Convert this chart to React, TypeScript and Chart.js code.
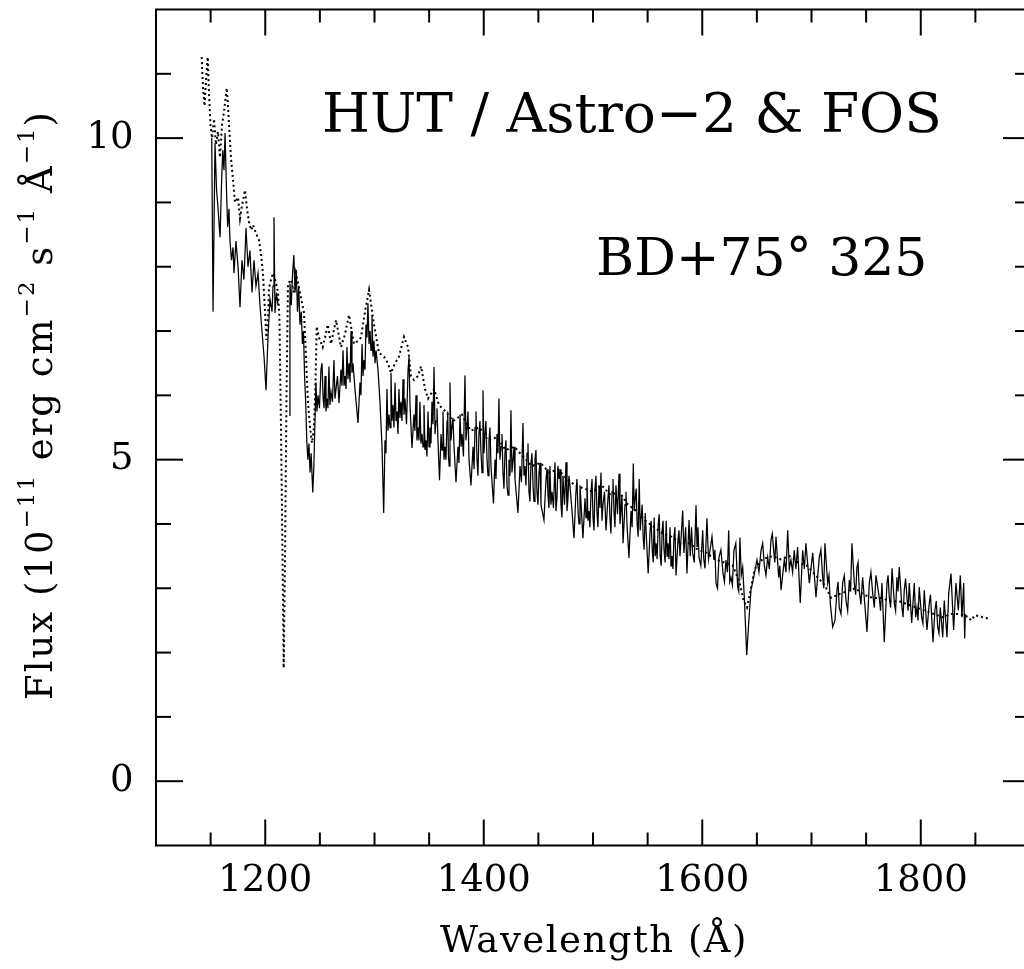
import { useEffect, useRef } from "react";
import { Chart, registerables } from "chart.js";

Chart.register(...registerables);

// HUT / Astro-2 spectrum (solid). null = gap at geocoronal Ly-alpha
const solidWave = [
  1151.0, 1152.2, 1154.0, 1155.4, 1156.7, 1158.6, 1160.0, 1161.1, 1162.2, 1163.2,
  1164.5, 1165.6, 1166.8, 1167.7, 1169.1, 1170.5, 1171.4, 1173.2, 1175.1, 1176.9,
  1178.7, 1180.5, 1182.4, 1184.2, 1186.0, 1187.9, 1189.7, 1191.5, 1193.4, 1195.2,
  1197.0, 1198.9, 1200.7, 1202.5, 1204.3, 1206.2, 1207.1, 1208.0, 1208.9, 1210.3,
  1211.7, 1216.0,
  1222.0, 1222.6, 1223.8, 1225.0, 1226.2, 1227.3, 1228.4, 1229.5, 1230.6, 1231.8,
  1233.0, 1234.0, 1235.0, 1236.0, 1237.0, 1238.0, 1239.0, 1240.0, 1241.0, 1242.0,
  1243.5, 1244.5, 1245.5, 1246.4, 1248.3, 1251.0, 1252.9, 1254.7, 1256.5, 1258.3,
  1260.2, 1262.9, 1264.8, 1266.1, 1267.5, 1269.3, 1271.2, 1273.0, 1274.8, 1276.7,
  1278.5, 1280.3, 1282.1, 1284.9, 1286.7, 1288.6, 1290.4, 1292.2, 1294.0, 1295.9,
  1297.7, 1299.5, 1301.4, 1303.2, 1305.0, 1306.9, 1308.4, 1309.6, 1311.4, 1313.3,
  1315.1, 1316.9, 1318.8, 1320.6, 1322.4, 1324.2, 1326.1, 1327.9, 1330.7, 1332.5,
  1334.3, 1336.1, 1338.0, 1339.8, 1341.6, 1343.5, 1345.3, 1347.1, 1349.0, 1350.8,
  1352.6, 1354.5, 1356.3, 1358.1, 1359.5, 1360.9, 1362.7, 1364.5, 1366.4, 1367.7,
  1369.1, 1370.9, 1372.8, 1374.6, 1376.4, 1378.3, 1380.1, 1382.8, 1384.7, 1386.5,
  1388.3, 1390.2, 1392.0, 1393.8, 1395.6, 1397.5, 1399.3, 1401.1, 1403.0, 1404.8,
  1406.6, 1408.9, 1410.3, 1412.1, 1413.9, 1415.8, 1417.6, 1419.4, 1421.3, 1423.1,
  1424.9, 1426.8, 1428.6, 1431.3, 1433.2, 1435.9, 1437.7, 1439.6, 1441.4, 1443.2,
  1445.1, 1446.9, 1448.7, 1450.6, 1452.4, 1455.1, 1457.0, 1458.8, 1460.6, 1462.5,
  1465.2, 1467.0, 1468.9, 1470.7, 1472.5, 1475.3, 1477.1, 1478.9, 1480.8, 1482.6,
  1484.4, 1486.3, 1488.1, 1490.8, 1492.7, 1494.5, 1496.3, 1498.2, 1500.0, 1501.8,
  1503.6, 1505.5, 1507.3, 1509.1, 1511.9, 1513.7, 1515.5, 1517.4, 1519.2, 1521.0,
  1523.8, 1525.6, 1527.5, 1529.3, 1531.1, 1532.9, 1534.8, 1536.9, 1538.6, 1540.4,
  1542.3, 1544.1, 1545.9, 1547.8, 1550.5, 1552.3, 1554.2, 1556.0, 1557.8, 1559.7,
  1561.5, 1563.3, 1565.0, 1567.0, 1568.6, 1570.5, 1572.3, 1574.1, 1576.0, 1577.8,
  1579.6, 1580.5, 1582.1, 1586.0, 1587.9, 1591.2, 1594.3, 1597.0, 1600.4, 1602.5,
  1604.3, 1607.1, 1610.7, 1612.6, 1615.3, 1619.0, 1621.7, 1624.2, 1626.3, 1629.0,
  1632.4, 1634.5, 1637.0, 1638.5, 1640.7, 1642.5, 1644.6, 1647.1, 1650.1, 1653.8,
  1656.8, 1659.9, 1662.9, 1665.4, 1667.5, 1670.0, 1672.1, 1675.1, 1678.2, 1681.2,
  1684.2, 1687.3, 1689.7, 1691.9, 1694.9, 1698.0, 1701.1, 1704.1, 1707.1, 1710.2,
  1712.3, 1714.8, 1717.2, 1719.4, 1721.5, 1723.3, 1725.4, 1728.5, 1731.6, 1734.6,
  1737.0, 1739.2, 1741.6, 1743.7, 1746.8, 1750.8, 1752.9, 1756.0, 1759.0, 1762.0,
  1764.5, 1766.6, 1769.1, 1771.2, 1773.7, 1775.8, 1778.2, 1780.3, 1782.8, 1784.9,
  1787.4, 1789.5, 1791.7, 1794.1, 1796.5, 1798.6, 1800.8, 1803.2, 1805.7, 1807.8,
  1810.0, 1811.2, 1813.0, 1815.5, 1817.9, 1820.1, 1821.5, 1824.0, 1825.6, 1827.7,
  1830.1, 1832.2, 1834.4, 1836.2, 1837.7, 1839.3, 1840.2, 1840.8,
];

const solidFlux = [
  10.0, 7.3, 9.92, 9.2, 8.93, 8.46, 9.3, 9.81, 9.5, 10.08,
  9.2, 8.62, 8.9, 8.41, 8.1, 8.3, 7.9, 8.4, 8.0, 7.37,
  8.1, 7.8, 8.6, 8.0, 8.25, 7.6, 8.1, 7.7, 7.9, 7.4,
  7.0, 6.6, 6.08, 6.9, 7.5, 7.3, 7.7, 8.77, 7.28, 7.6,
  7.4, null,
  5.69, 7.74, 7.4, 7.9, 8.18, 7.6, 7.95, 7.3, 7.7, 7.1,
  7.3, 6.8, 7.0, 6.3, 5.9, 5.3, 5.0, 5.25, 4.8, 5.1,
  4.49, 4.9, 5.6, 6.2, 6.0, 6.4, 5.97, 6.3, 5.95, 6.45,
  6.05, 6.55, 6.1, 6.3, 5.88, 6.4, 6.7, 6.3, 6.75, 6.5,
  7.0, 6.5, 6.1, 5.57, 6.2, 6.8, 6.55, 7.1, 7.43, 7.0,
  7.25, 6.85, 6.7, 6.4, 5.9, 5.2, 4.17, 5.3, 6.1, 5.7,
  6.35, 5.85, 6.2, 5.75, 6.1, 5.9, 6.25, 5.95, 6.39, 5.85,
  5.18, 5.7, 6.0, 5.5, 5.9, 5.4, 5.85, 5.3, 5.75, 5.5,
  5.9, 6.44, 5.6, 5.3, 4.68, 5.4, 5.75, 5.2, 5.6, 5.05,
  6.2, 5.5, 5.2, 4.65, 5.2, 5.7, 5.4, 6.31, 5.5, 5.0,
  4.6, 5.2, 5.5, 5.0, 5.4, 5.1, 6.08, 5.4, 5.0, 5.3,
  4.9, 4.32, 5.0, 5.4, 5.95, 5.2, 4.8, 5.1, 4.6, 5.0,
  5.77, 5.0, 4.7, 4.17, 4.9, 5.57, 4.9, 5.1, 4.5, 4.95,
  4.6, 5.0, 4.5, 4.8, 4.3, 4.06, 4.7, 4.45, 4.9, 4.5,
  4.96, 4.4, 4.7, 4.3, 4.75, 4.96, 4.4, 4.6, 4.2, 3.78,
  4.5, 4.2, 4.6, 3.78, 4.4, 4.7, 4.2, 4.5, 4.1, 4.55,
  4.2, 4.6, 4.8, 4.3, 3.9, 4.4, 4.1, 4.5, 4.2, 4.6,
  4.78, 4.2, 3.7, 4.3, 4.0, 3.47, 4.2, 4.94, 4.4, 4.0,
  4.7, 4.1, 3.8, 4.17, 3.23, 3.9, 3.6, 4.1, 3.7, 4.0,
  3.5, 3.9, 3.6, 4.05, 3.7, 3.95, 3.5, 3.8, 3.2, 3.75,
  3.5, 3.75, 4.21, 3.23, 4.06, 3.55, 4.29, 3.48, 3.9, 3.31,
  4.09, 3.59, 3.44, 3.08, 3.48, 3.23, 3.44, 3.9, 3.17, 3.59,
  3.02, 3.79, 3.33, 2.86, 1.96, 2.46, 2.97, 3.17, 3.44, 3.59,
  3.36, 3.48, 3.75, 3.59, 3.8, 3.17, 2.97, 3.44, 3.9, 3.44,
  3.59, 3.64, 2.77, 3.59, 3.7, 3.08, 3.55, 2.86, 3.48, 3.17,
  3.7, 3.08, 2.77, 2.4, 2.5, 2.97, 2.7, 3.08, 2.81, 3.13,
  3.7, 3.08, 3.33, 2.97, 3.17, 2.32, 3.08, 2.92, 3.2, 2.86,
  3.08, 2.16, 3.08, 2.86, 3.31, 2.77, 3.17, 3.33, 2.7, 2.97,
  2.86, 3.08, 2.46, 3.08, 2.7, 3.02, 2.55, 2.97, 2.35, 2.77,
  2.55, 2.16, 2.66, 2.4, 2.7, 2.24, 2.81, 2.24, 2.92, 3.23,
  2.35, 3.08, 2.66, 3.2, 2.55, 3.08, 2.22, 2.6,
];

// additional fine-scale samples of the HUT noise band (merged by wavelength)
const solidFineWave = [
  1247.3, 1249.6, 1252.0, 1253.8, 1255.6, 1257.4, 1259.2, 1261.5, 1263.8, 1270.2,
  1272.1, 1273.9, 1275.7, 1277.6, 1279.4, 1287.6, 1289.5, 1291.3, 1293.1, 1295.0,
  1296.8, 1298.6, 1300.5, 1310.5, 1312.3, 1314.2, 1316.0, 1317.8, 1319.7, 1321.5,
  1323.3, 1325.1, 1327.0, 1329.3, 1331.6, 1337.0, 1338.9, 1340.7, 1342.5, 1344.4,
  1346.2, 1348.0, 1349.9, 1351.7, 1353.5, 1355.4, 1357.2, 1361.8, 1363.6, 1365.4,
  1367.0, 1368.4, 1370.0, 1371.8, 1377.3, 1379.2, 1381.4, 1383.7, 1385.6, 1391.1,
  1392.9, 1394.7, 1396.5, 1398.4, 1400.2, 1402.0, 1403.9, 1405.7, 1411.2, 1413.0,
  1414.8, 1416.7, 1418.5, 1420.3, 1422.2, 1424.0, 1425.8, 1427.7, 1434.5, 1436.8,
  1438.6, 1440.5, 1442.3, 1444.1, 1446.0, 1447.8, 1449.6, 1451.5, 1457.9, 1459.7,
  1461.5, 1463.8, 1466.1, 1467.9, 1469.8, 1471.6, 1473.9, 1476.2, 1478.0, 1485.3,
  1487.2, 1493.6, 1495.4, 1497.2, 1499.1, 1500.9, 1502.7, 1504.5, 1506.4, 1508.2,
  1510.5, 1514.6, 1516.4, 1518.3, 1520.1, 1522.4, 1524.7, 1526.5, 1530.2, 1535.8,
  1537.7, 1539.5, 1541.3, 1543.2, 1545.0, 1546.8, 1553.2, 1555.1, 1556.9, 1558.7,
  1560.6, 1562.4, 1564.1, 1566.0, 1567.8, 1569.5, 1571.4, 1573.2, 1575.0, 1578.7,
  1583.2, 1584.8, 1589.0, 1590.2, 1592.7, 1595.2, 1596.1, 1598.7, 1601.4, 1605.7,
  1608.9, 1611.6, 1614.0, 1617.1, 1620.3, 1623.0, 1625.2, 1627.6, 1630.7, 1633.4,
  1635.7, 1651.9, 1655.3, 1658.3, 1661.4, 1664.1, 1666.4, 1671.0, 1676.6, 1679.7,
  1682.7, 1685.7, 1693.4, 1708.6, 1711.2, 1716.0, 1724.3, 1727.0, 1730.0, 1733.1,
  1735.8, 1740.4, 1742.6, 1745.2, 1754.4, 1757.5, 1763.2, 1770.1, 1772.4, 1777.0,
  1779.2, 1783.8, 1786.1, 1788.4, 1795.3, 1797.5, 1802.0, 1808.9, 1814.2, 1816.7,
];

const solidFineFlux = [
  5.75, 5.8, 6.5, 5.8, 5.75, 5.8, 5.85, 5.9, 5.95, 6.15,
  6.15, 6.1, 6.25, 6.2, 6.35, 6.0, 6.3, 6.4, 6.9, 6.8,
  6.7, 6.6, 6.5, 5.1, 5.45, 5.5, 5.6, 5.5, 5.6, 5.4,
  5.65, 5.6, 5.7, 5.55, 6.6, 5.45, 5.3, 5.3, 5.25, 5.2,
  5.15, 5.05, 5.2, 5.25, 5.55, 5.4, 5.8, 5.15, 5.0, 5.0,
  5.75, 4.9, 5.3, 5.65, 4.95, 5.2, 5.05, 5.3, 5.75, 4.85,
  5.75, 4.75, 5.6, 4.8, 5.1, 5.6, 4.75, 5.5, 4.7, 5.1,
  5.0, 5.4, 4.55, 5.3, 4.45, 4.75, 4.8, 5.2, 4.65, 4.75,
  4.6, 5.25, 4.35, 5.1, 4.35, 5.15, 4.3, 4.95, 4.85, 4.25,
  4.3, 4.25, 4.2, 4.9, 4.85, 4.1, 4.3, 4.2, 4.75, 4.7,
  4.0, 4.1, 4.05, 3.95, 4.7, 3.9, 4.75, 3.95, 4.25, 4.05,
  4.5, 4.6, 3.85, 4.7, 3.95, 4.15, 4.0, 4.45, 4.5, 3.95,
  4.2, 4.55, 3.8, 3.9, 4.3, 3.6, 4.05, 3.4, 3.5, 3.45,
  4.15, 3.35, 4.05, 3.4, 3.5, 3.45, 3.35, 3.3, 3.95, 3.9,
  3.55, 3.95, 3.5, 3.95, 3.4, 3.65, 3.95, 3.35, 3.45, 3.45,
  3.8, 3.6, 3.0, 3.6, 3.1, 3.25, 3.1, 3.05, 3.7, 2.95,
  3.2, 3.25, 3.7, 3.2, 3.3, 3.85, 3.4, 3.35, 3.25, 3.3,
  3.25, 3.3, 3.3, 3.6, 3.0, 3.2, 3.1, 2.6, 3.2, 2.65,
  2.95, 2.9, 3.4, 2.75, 3.25, 2.7, 2.65, 3.2, 2.7, 2.65,
  2.95, 2.55, 3.15, 2.65, 2.55, 2.5, 2.45, 2.9, 2.8, 2.3,
];

// FOS spectrum (dotted)
const dottedWave = [
  1141.8, 1143.0, 1144.4, 1145.8, 1147.3, 1148.5, 1149.9, 1151.3, 1153.1, 1154.9,
  1156.7, 1158.6, 1160.4, 1162.2, 1164.7, 1165.9, 1167.3, 1168.6, 1170.5, 1172.3,
  1175.1, 1176.9, 1178.7, 1181.5, 1183.3, 1185.1, 1187.0, 1188.8, 1191.5, 1194.3,
  1196.1, 1197.9, 1199.8, 1201.1, 1202.5, 1203.4, 1205.3, 1207.1, 1209.8, 1211.7,
  1213.0, 1214.4, 1215.8, 1216.9, 1218.1, 1219.4, 1220.8, 1223.6, 1226.3, 1228.1,
  1231.8, 1235.5, 1237.3, 1239.1, 1241.0, 1242.8, 1244.6, 1246.0, 1247.1, 1249.2,
  1252.6, 1254.7, 1257.2, 1260.2, 1264.8, 1269.3, 1273.0, 1276.7, 1281.2, 1284.9,
  1287.6, 1291.3, 1295.0, 1299.5, 1304.1, 1308.7, 1312.3, 1315.1, 1318.8, 1322.4,
  1327.0, 1330.7, 1333.4, 1336.1, 1339.8, 1342.6, 1346.2, 1349.0, 1354.5, 1359.0,
  1365.0, 1372.0, 1380.0, 1388.0, 1396.0, 1404.0, 1412.0, 1420.0, 1428.0, 1436.0,
  1444.0, 1452.0, 1460.0, 1468.0, 1476.0, 1484.0, 1492.0, 1500.0, 1508.0, 1516.0,
  1524.0, 1532.0, 1540.0, 1548.0, 1556.0, 1564.0, 1572.0, 1580.0, 1588.0, 1596.0,
  1604.0, 1612.0, 1620.0, 1628.0, 1634.0, 1638.0, 1641.0, 1644.0, 1648.0, 1655.0,
  1664.0, 1672.0, 1680.0, 1688.0, 1696.0, 1704.0, 1712.0, 1718.0, 1724.0, 1732.0,
  1740.0, 1748.0, 1756.0, 1764.0, 1772.0, 1780.0, 1788.0, 1796.0, 1804.0, 1812.0,
  1820.0, 1828.0, 1836.0, 1844.0, 1846.0, 1849.6, 1857.0, 1861.5,
];

const dottedFlux = [
  11.26, 10.8, 10.5, 10.9, 11.26, 10.7, 10.2, 10.0, 10.3, 9.9,
  10.1, 9.7, 10.2, 10.4, 10.78, 10.5, 10.07, 9.7, 9.35, 9.0,
  9.08, 8.75, 8.95, 9.19, 8.9, 8.7, 8.57, 8.65, 8.52, 8.41,
  8.2, 7.9, 7.3, 6.86, 7.2, 7.67, 7.8, 7.9, 7.75, 7.6,
  7.2, 5.5, 3.5, 1.76, 3.5, 5.9, 7.74, 7.8, 7.6, 7.9,
  7.6, 7.28, 6.6, 5.9, 5.5, 5.26, 5.5, 6.2, 7.07, 6.9,
  6.75, 6.9, 7.1, 6.8, 7.17, 6.75, 6.95, 7.25, 6.8, 6.85,
  6.9, 7.3, 7.64, 7.1, 6.66, 6.6, 6.5, 6.35, 6.5, 6.6,
  6.91, 6.75, 6.3, 6.24, 6.3, 6.45, 6.1, 5.95, 6.1, 5.85,
  5.75, 5.6, 5.7, 5.45, 5.5, 5.3, 5.35, 5.15, 5.2, 5.05,
  4.9, 4.95, 4.8, 4.85, 4.7, 4.6, 4.55, 4.5, 4.6, 4.45,
  4.5, 4.3, 4.2, 4.05, 3.95, 3.85, 3.8, 3.7, 3.7, 3.6,
  3.55, 3.45, 3.4, 3.35, 3.1, 2.8, 2.7, 2.95, 3.3, 3.45,
  3.5, 3.45, 3.5, 3.4, 3.35, 3.2, 3.05, 2.85, 2.9, 2.95,
  3.0, 2.9, 2.85, 2.85, 2.8, 2.8, 2.75, 2.7, 2.65, 2.6,
  2.55, 2.6, 2.6, 2.55, 2.5, 2.58, 2.55, 2.53,
];

const xTickValues = [1200, 1400, 1600, 1800];
const yTickValues = [0, 5, 10];
const xRange = [1100, 1900];
const yRange = [-1, 12];
const xMinorStep = 50;
const yMinorStep = 1;

const annotationLines = ["HUT / Astro\u22122 & FOS", "BD+75\u00b0 325"];
const xTitle = "Wavelength (\u00c5)";
const yTitleParts: { text: string; sup: boolean }[] = [
  { text: "Flux (10", sup: false },
  { text: "\u221211", sup: true },
  { text: " erg cm", sup: false },
  { text: "\u22122", sup: true },
  { text: " s", sup: false },
  { text: "\u22121", sup: true },
  { text: " \u00c5", sup: false },
  { text: "\u22121", sup: true },
  { text: ")", sup: false },
];

const FONT = "'DejaVu Serif', serif";

const framePlugin = {
  id: "frameAndText",
  afterDatasetsDraw(chart: any) {
    const { ctx, chartArea } = chart;
    const { left, right, top, bottom } = chartArea;
    const xs = chart.scales.x;
    const ys = chart.scales.y;
    ctx.save();
    ctx.strokeStyle = "#000";
    ctx.lineWidth = 2;
    ctx.beginPath();
    ctx.rect(left, top, right - left, bottom - top);
    ctx.stroke();

    const line = (x1: number, y1: number, x2: number, y2: number) => {
      ctx.beginPath();
      ctx.moveTo(x1, y1);
      ctx.lineTo(x2, y2);
      ctx.stroke();
    };

    for (let v = xRange[0] + xMinorStep; v < xRange[1]; v += xMinorStep) {
      const px = xs.getPixelForValue(v);
      const major = xTickValues.includes(v);
      const len = major ? 26 : 13;
      line(px, bottom, px, bottom - len);
      line(px, top, px, top + len);
    }
    for (let v = yRange[0] + yMinorStep; v < yRange[1]; v += yMinorStep) {
      const py = ys.getPixelForValue(v);
      const major = yTickValues.includes(v);
      const len = major ? 27 : 15;
      line(left, py, left + len, py);
      line(right, py, right - len, py);
    }

    // annotations
    ctx.fillStyle = "#000";
    ctx.textBaseline = "alphabetic";
    ctx.textAlign = "left";
    ctx.font = `55px ${FONT}`;
    ctx.fillText(annotationLines[0], 322, 132);
    ctx.font = `52px ${FONT}`;
    ctx.fillText(annotationLines[1], 596, 275);

    // x-axis title
    ctx.save();
    (ctx as any).letterSpacing = "1.5px";
    ctx.font = `37px ${FONT}`;
    ctx.textAlign = "center";
    ctx.fillText(xTitle, (left + right) / 2 + 1, 951.5);
    ctx.restore();

    // y-axis title with superscripts
    ctx.save();
    (ctx as any).letterSpacing = "2px";
    const mainSize = 37;
    const supSize = 23;
    const widths = yTitleParts.map((p) => {
      ctx.font = `${p.sup ? supSize : mainSize}px ${FONT}`;
      return ctx.measureText(p.text).width;
    });
    const total = widths.reduce((a, b) => a + b, 0);
    ctx.translate(52, 405);
    ctx.rotate(-Math.PI / 2);
    let pos = -total / 2;
    yTitleParts.forEach((p, i) => {
      ctx.font = `${p.sup ? supSize : mainSize}px ${FONT}`;
      ctx.fillText(p.text, pos, p.sup ? -18 : 0);
      pos += widths[i];
    });
    ctx.restore();
    ctx.restore();
  },
};

const zeroPad = (s: any) => {
  s.paddingTop = 0;
  s.paddingBottom = 0;
  s.paddingLeft = 0;
  s.paddingRight = 0;
};

export default function App() {
  const ref = useRef<HTMLCanvasElement | null>(null);

  useEffect(() => {
    if (!ref.current) return;
    const solidData = solidWave
      .map((x, i) => ({ x, y: solidFlux[i] as number | null }))
      .concat(solidFineWave.map((x, i) => ({ x, y: solidFineFlux[i] as number | null })))
      .sort((a, b) => a.x - b.x);
    const dottedData = dottedWave.map((x, i) => ({ x, y: dottedFlux[i] }));
    const tickFont = { family: FONT, size: 37 };
    const chart = new Chart(ref.current, {
      type: "line",
      data: {
        datasets: [
          {
            label: "FOS",
            data: dottedData,
            borderColor: "#000",
            borderWidth: 2,
            borderDash: [2, 3],
            pointRadius: 0,
            tension: 0,
            fill: false,
          },
          {
            label: "HUT",
            data: solidData as any,
            borderColor: "#000",
            borderWidth: 1.25,
            pointRadius: 0,
            tension: 0,
            fill: false,
            spanGaps: false,
          },
        ],
      },
      options: {
        animation: false,
        responsive: false,
        devicePixelRatio: 1,
        layout: { padding: { left: 0, right: 10, top: 9.5, bottom: 0 } },
        plugins: {
          legend: { display: false },
          tooltip: { enabled: false },
        },
        scales: {
          x: {
            type: "linear",
            min: xRange[0],
            max: xRange[1],
            afterBuildTicks: (s: any) => {
              s.ticks = xTickValues.map((v) => ({ value: v }));
            },
            afterFit: (s: any) => {
              s.height = 123.5;
              zeroPad(s);
            },
            grid: { display: false, drawTicks: false },
            border: { display: false },
            ticks: {
              font: tickFont,
              color: "#000",
              padding: 14,
              maxRotation: 0,
              autoSkip: false,
              callback: (v: any) => String(v),
            },
          },
          y: {
            type: "linear",
            min: yRange[0],
            max: yRange[1],
            afterBuildTicks: (s: any) => {
              s.ticks = yTickValues.map((v) => ({ value: v }));
            },
            afterFit: (s: any) => {
              s.width = 156;
              zeroPad(s);
            },
            grid: { display: false, drawTicks: false },
            border: { display: false },
            ticks: {
              font: tickFont,
              color: "#000",
              padding: 22.5,
              autoSkip: false,
              callback: (v: any) => String(v),
            },
          },
        },
      },
      plugins: [framePlugin],
    });
    return () => chart.destroy();
  }, []);

  return (
    <div
      style={{
        position: "fixed",
        left: 0,
        top: 0,
        width: 1024,
        height: 969,
        overflow: "hidden",
        background: "#fff",
      }}
    >
      <canvas ref={ref} width={1040} height={969} style={{ width: 1040, height: 969, display: "block" }} />
    </div>
  );
}
